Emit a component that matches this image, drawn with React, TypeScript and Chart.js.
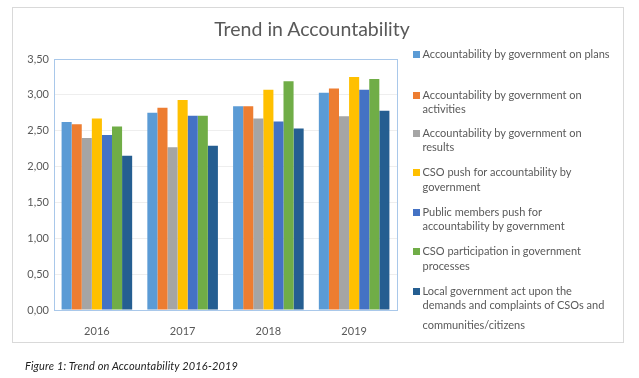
import React, { useEffect, useRef } from "react";
import { Chart, registerables } from "chart.js";

Chart.register(...registerables);

const categories = ["2016", "2017", "2018", "2019"];
const yTicks = [0, 0.5, 1, 1.5, 2, 2.5, 3, 3.5];

const seriesNames = [
  "Accountability by government on plans",
  "Accountability by government on activities",
  "Accountability by government on results",
  "CSO push for accountability by government",
  "Public members push for accountability by government",
  "CSO participation in government processes",
  "Local government act upon the demands and complaints of CSOs and communities/citizens",
];

const plans = [2.62, 2.75, 2.84, 3.03];
const activities = [2.59, 2.82, 2.84, 3.09];
const results = [2.4, 2.27, 2.67, 2.7];
const csoPush = [2.67, 2.93, 3.07, 3.25];
const publicPush = [2.44, 2.71, 2.63, 3.07];
const csoParticipation = [2.56, 2.71, 3.19, 3.22];
const localAct = [2.15, 2.29, 2.53, 2.78];

const seriesValues = [plans, activities, results, csoPush, publicPush, csoParticipation, localAct];
const colors = ["#5B9BD5", "#ED7D31", "#A5A5A5", "#FFC000", "#4472C4", "#70AD47", "#255E91"];

const legendLines = [
  ["Accountability by government on plans"],
  ["Accountability by government on", "activities"],
  ["Accountability by government on", "results"],
  ["CSO push for accountability by", "government"],
  ["Public members push for", "accountability by government"],
  ["CSO participation in government", "processes"],
  ["Local government act upon the", "demands and complaints of CSOs and", "communities/citizens"],
];
const legendLineY = [[54.3], [95, 108.7], [133.3, 146.7], [172.3, 186.7], [212.3, 226], [251.3, 266], [291, 305, 325]];

const FONT = "Lato, 'Open Sans', sans-serif";
const TEXT = "#595959";

const plotBorder = {
  id: "plotBorder",
  afterDraw(chart: any) {
    const { ctx, chartArea } = chart;
    ctx.save();
    ctx.strokeStyle = "#A9C8EA";
    ctx.lineWidth = 1;
    ctx.strokeRect(
      Math.round(chartArea.left) + 0.5,
      Math.round(chartArea.top) + 0.5,
      Math.round(chartArea.right - chartArea.left),
      Math.round(chartArea.bottom - chartArea.top)
    );
    ctx.restore();
  },
};

export default function App() {
  const ref = useRef<HTMLCanvasElement | null>(null);

  useEffect(() => {
    if (!ref.current) return;
    const chart = new Chart(ref.current, {
      type: "bar",
      data: {
        labels: categories,
        datasets: seriesValues.map((vals, i) => ({
          label: seriesNames[i],
          data: vals,
          backgroundColor: colors[i],
          borderWidth: 0,
          categoryPercentage: 0.823,
          barPercentage: 1,
        })),
      },
      options: {
        responsive: false,
        animation: false,
        layout: { padding: { left: 0, top: 59, right: 242, bottom: 38 } },
        plugins: {
          legend: { display: false },
          title: { display: false },
          tooltip: { enabled: false },
        },
        scales: {
          x: {
            grid: { display: false, drawTicks: false },
            border: { display: false },
            ticks: { font: { family: FONT, size: 11 }, color: TEXT, padding: 15 },
            afterFit: (s: any) => {
              s.height = 30;
            },
          },
          y: {
            min: 0,
            max: 3.5,
            afterBuildTicks: (s: any) => {
              s.ticks = yTicks.map((v) => ({ value: v }));
            },
            grid: { color: "#EEEEEE", drawTicks: false },
            border: { display: false },
            ticks: {
              font: { family: FONT, size: 11 },
              color: TEXT,
              padding: 5,
              callback: (v: any) => Number(v).toFixed(2).replace(".", ","),
            },
            afterFit: (s: any) => {
              s.width = 54;
            },
          },
        },
      },
      plugins: [plotBorder],
    });
    return () => chart.destroy();
  }, []);

  return (
    <div style={{ position: "absolute", left: 0, top: 0, width: 639, height: 378, background: "#fff", overflow: "hidden" }}>
      <div
        style={{
          position: "absolute",
          left: 12,
          top: 7,
          width: 612,
          height: 336,
          border: "1px solid #D9D9D9",
          boxSizing: "border-box",
        }}
      />
      <canvas ref={ref} width={639} height={378} style={{ position: "absolute", left: 0, top: 0, width: 639, height: 378 }} />
      <div
        style={{
          position: "absolute",
          left: 0,
          width: 624,
          top: 17,
          lineHeight: "24px",
          textAlign: "center",
          fontFamily: FONT,
          fontSize: 19.5,
          color: TEXT,
        }}
      >
        Trend in Accountability
      </div>
      {legendLines.map((lines, i) => (
        <React.Fragment key={i}>
          <div
            style={{
              position: "absolute",
              left: 413,
              top: legendLineY[i][0] - 3.5,
              width: 7,
              height: 7,
              background: colors[i],
            }}
          />
          {lines.map((ln, j) => (
            <div
              key={j}
              style={{
                position: "absolute",
                left: 422.5,
                top: legendLineY[i][j] - 7,
                lineHeight: "14px",
                whiteSpace: "nowrap",
                fontFamily: FONT,
                fontSize: 11,
                color: TEXT,
              }}
            >
              {ln}
            </div>
          ))}
        </React.Fragment>
      ))}
      <div
        style={{
          position: "absolute",
          left: 25,
          top: 359,
          lineHeight: "14px",
          whiteSpace: "nowrap",
          fontFamily: FONT,
          fontStyle: "italic",
          fontSize: 11,
          letterSpacing: "0.15px",
          color: "#222",
        }}
      >
        Figure 1: Trend on Accountability 2016-2019
      </div>
    </div>
  );
}
